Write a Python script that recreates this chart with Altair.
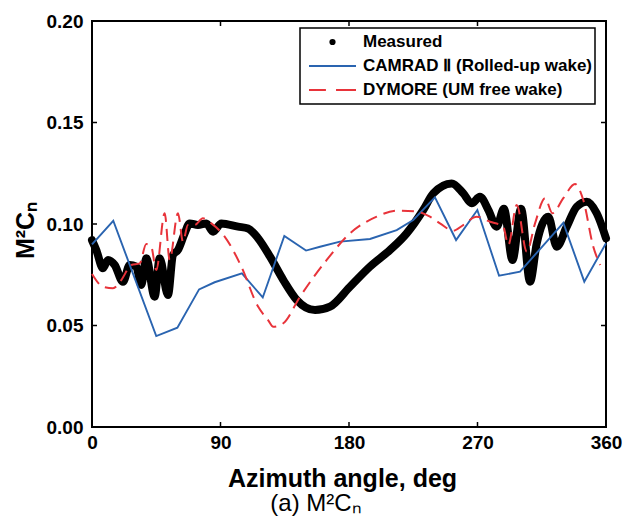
import altair as alt
import pandas as pd

# ---- data ----
series_names = ["Measured", "CAMRAD Ⅱ (Rolled-up wake)", "DYMORE (UM free wake)"]
series_colors = ["#000000", "#2a64b0", "#e8333a"]

meas_az = [0, 3, 7.7, 11.2, 15.9, 21.7, 26.4, 31, 34.5, 38, 43.9, 47.4, 53.2, 56.7,
           60.2, 64.9, 68.4, 74.2, 80.1, 84.8, 90.6, 102.3, 109.3, 116.3, 124.7, 134,
           143.4, 156.2, 166.7, 180.7, 194.7, 208.7, 220.4, 232, 239, 251.9, 260,
           265.9, 271.7, 277.6, 283.4, 288.5, 294.5, 300.5, 306.8, 311.5, 319.6,
           325.5, 332.5, 339.5, 346.5, 353.5, 360]
meas_val = [0.092, 0.0872, 0.0782, 0.0823, 0.0798, 0.0715, 0.0798, 0.079, 0.070,
            0.0831, 0.0642, 0.0831, 0.065, 0.0847, 0.0872, 0.0954, 0.1003, 0.0995,
            0.1003, 0.0962, 0.1003, 0.0987, 0.0978, 0.093, 0.0839, 0.0724, 0.0626,
            0.0576, 0.0593, 0.0691, 0.079, 0.0872, 0.0954, 0.1069, 0.1151, 0.120,
            0.1151, 0.1102, 0.1134, 0.1069, 0.0987, 0.1075, 0.0823, 0.1075, 0.0716,
            0.0905, 0.1036, 0.0888, 0.0987, 0.1085, 0.1110, 0.1053, 0.0930]

cam_az = [0, 14.9, 45, 59.8, 75, 85.9, 105, 119.6, 134.7, 149.9, 159.7, 173.7,
          194.7, 213.4, 225, 240.2, 255, 269.9, 285.1, 299.8, 330.1, 344.8, 360]
cam_val = [0.090, 0.1016, 0.0448, 0.0489, 0.0678, 0.0713, 0.0757, 0.0638, 0.0941,
           0.0869, 0.0888, 0.0913, 0.0926, 0.0970, 0.1020, 0.1131, 0.0921, 0.1069,
           0.0745, 0.0765, 0.1006, 0.0716, 0.0905]

dym_az = [0, 7.7, 14.7, 20.5, 27.5, 33.4, 38, 41.5, 45, 50.9, 54.4, 60.2, 63.7,
          67.2, 71.9, 77.7, 83.6, 92.9, 104.6, 116.3, 123.3, 127, 134, 145.7, 164.4,
          180.7, 199.4, 213.4, 227.4, 236.7, 243.7, 253, 260, 269.4, 278.8, 288,
          291.6, 297.5, 304.5, 310.3, 317.3, 322.5, 330.1, 338.3, 344.1, 351.1, 356]
dym_val = [0.0754, 0.0691, 0.0683, 0.0724, 0.0798, 0.0806, 0.0901, 0.0888, 0.0773,
           0.1053, 0.0823, 0.1053, 0.0913, 0.0995, 0.0995, 0.1028, 0.1003, 0.0938,
           0.0790, 0.0593, 0.0527, 0.0494, 0.0511, 0.0642, 0.0823, 0.0954, 0.1036,
           0.1066, 0.1061, 0.1036, 0.1003, 0.0967, 0.0995, 0.1036, 0.1011, 0.0987,
           0.0897, 0.1094, 0.0864, 0.1003, 0.1127, 0.1053, 0.1127, 0.1197, 0.1118,
           0.0888, 0.0798]

x_ticks = [90, 180, 270]
y_ticks = [0.05, 0.10, 0.15]

FONT = "Liberation Sans"
W, H = 514, 406

meas = pd.DataFrame({"az": meas_az, "v": meas_val, "series": series_names[0]})
cam = pd.DataFrame({"az": cam_az, "v": cam_val, "series": series_names[1]})
dym = pd.DataFrame({"az": dym_az, "v": dym_val, "series": series_names[2]})
alldf = pd.concat([meas, cam, dym], ignore_index=True)

xs = alt.Scale(domain=[0, 360], nice=False, zero=False)
ys = alt.Scale(domain=[0, 0.2], nice=False, zero=False)

x_enc = alt.X("az:Q", scale=xs, axis=alt.Axis(
    values=[0, 90, 180, 270, 360], format="d", title="Azimuth angle, deg",
    domain=False, ticks=False, tickSize=0, grid=False, labelFlush=False,
    labelOverlap=False, labelPadding=6, labelFont=FONT, labelFontSize=19,
    labelFontWeight="bold", labelColor="black", titleFont=FONT, titleFontSize=25,
    titleFontWeight="bold", titleColor="black", titleX=250, titleY=59,
    titleAlign="center", titleBaseline="alphabetic"))
y_enc = alt.Y("v:Q", scale=ys, axis=alt.Axis(
    values=[0, 0.05, 0.10, 0.15, 0.20], format=".2f", title="M²Cₙ",
    domain=False, ticks=False, tickSize=0, grid=False, labelOverlap=False,
    labelPadding=9, labelFont=FONT, labelFontSize=19, labelFontWeight="bold",
    labelColor="black", titleFont=FONT, titleFontSize=25, titleFontWeight="bold",
    titleColor="black", titleX=-59, titleY=209, titleAngle=270,
    titleAlign="center", titleBaseline="alphabetic"))

base = alt.Chart(alldf)

measured = base.transform_filter(alt.datum.series == series_names[0]).mark_line(
    color="black", strokeWidth=8, strokeCap="round", strokeJoin="round",
    interpolate="monotone"
).encode(x=x_enc, y=y_enc)

camrad = base.transform_filter(alt.datum.series == series_names[1]).mark_line(
    color=series_colors[1], strokeWidth=1.9
).encode(x="az:Q", y="v:Q")

dymore = base.transform_filter(alt.datum.series == series_names[2]).mark_line(
    color=series_colors[2], strokeWidth=2, strokeDash=[12, 7], interpolate="monotone"
).encode(x="az:Q", y="v:Q")

dot_path = ("M0.09,0A0.09,0.09,0,1,1,-0.09,0A0.09,0.09,0,1,1,0.09,0"
            "M0.04,0A0.04,0.04,0,1,1,-0.04,0A0.04,0.04,0,1,1,0.04,0")

def make_legend():
    return alt.Legend(title=None, orient="none", legendX=208, legendY=7,
                      symbolSize=2209, symbolStrokeWidth=2,
                      clipHeight=22, rowPadding=2, padding=3,
                      symbolOffset=5, labelOffset=6,
                      labelFont=FONT, labelFontSize=17,
                      labelFontWeight="bold", labelColor="black",
                      strokeColor="black", fillColor="white",
                      labelLimit=400)

legend_layer = base.transform_filter("false").mark_point(
    filled=False, opacity=1, strokeWidth=2, size=2209
).encode(
    x="az:Q", y="v:Q",
    color=alt.Color("series:N", scale=alt.Scale(domain=series_names, range=series_colors),
                    legend=make_legend()),
    shape=alt.Shape("series:N", scale=alt.Scale(
        domain=series_names,
        range=[dot_path, "M-1,0L1,0", "M-1,0L-0.28,0M0.15,0L1,0"]),
        legend=make_legend()),
)

tdf_x = pd.DataFrame({"t": x_ticks})
tdf_y = pd.DataFrame({"t": y_ticks})
tick_bot = alt.Chart(tdf_x).mark_rule(color="black", strokeWidth=1.5).encode(
    x=alt.X("t:Q", scale=xs), y=alt.value(H), y2=alt.value(H - 5))
tick_top = alt.Chart(tdf_x).mark_rule(color="black", strokeWidth=1.5).encode(
    x=alt.X("t:Q", scale=xs), y=alt.value(0), y2=alt.value(5))
tick_left = alt.Chart(tdf_y).mark_rule(color="black", strokeWidth=1.5).encode(
    y=alt.Y("t:Q", scale=ys), x=alt.value(0), x2=alt.value(5))
tick_right = alt.Chart(tdf_y).mark_rule(color="black", strokeWidth=1.5).encode(
    y=alt.Y("t:Q", scale=ys), x=alt.value(W), x2=alt.value(W - 5))

chart = alt.layer(
    measured, camrad, dymore, legend_layer, tick_bot, tick_top, tick_left, tick_right
).properties(
    width=W, height=H,
    autosize=alt.AutoSizeParams(type="none"),
    padding={"left": 92, "top": 21, "right": 19, "bottom": 97},
    title=alt.TitleParams("(a) M²Cₙ", orient="bottom", anchor="middle", frame="group",
                          dx=-33, offset=1, font=FONT, fontSize=24, fontWeight="normal",
                          color="black"),
    background="white",
).configure_view(stroke="black", strokeWidth=2).configure_legend(strokeWidth=1.5)

chart.save("out.html", embed_options={"renderer": "svg", "actions": False})
